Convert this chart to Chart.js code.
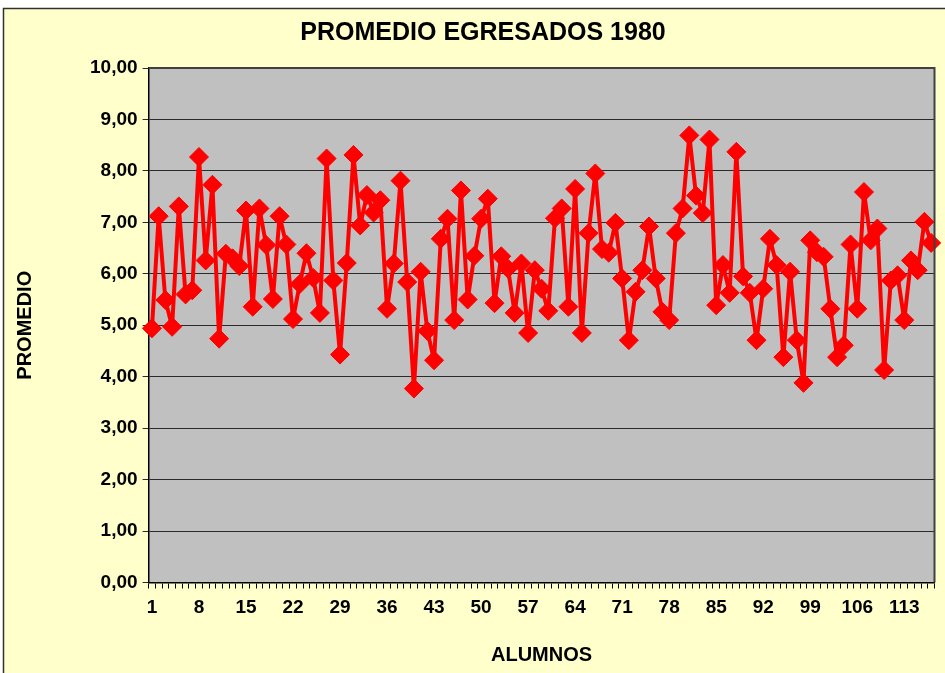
<!DOCTYPE html>
<html>
<head>
<meta charset="utf-8">
<script src="https://cdn.jsdelivr.net/npm/chart.js@4.4.1/dist/chart.umd.min.js"></script>
<style>
  body { margin: 0; background: #fff; }
  canvas { display: block; }
</style>
</head>
<body>
<canvas id="grafico" width="945" height="673"></canvas>
<script>
// categorias: alumnos 1..117
const alumnos = Array.from({ length: 117 }, (_, i) => String(i + 1));
const etiquetasX = ['1', '8', '15', '22', '29', '36', '43', '50', '57', '64', '71', '78', '85', '92', '99', '106', '113'];

// promedio de cada alumno
const promedios = [
  4.94, 7.12, 5.49, 4.97, 7.31, 5.60, 5.68, 8.27, 6.26, 7.73,
  4.74, 6.39, 6.30, 6.15, 7.23, 5.36, 7.27, 6.56, 5.51, 7.12,
  6.57, 5.12, 5.80, 6.40, 5.92, 5.24, 8.24, 5.87, 4.43, 6.21,
  8.31, 6.94, 7.53, 7.19, 7.43, 5.32, 6.20, 7.81, 5.84, 3.77,
  6.04, 4.89, 4.32, 6.68, 7.07, 5.10, 7.62, 5.50, 6.35, 7.07,
  7.46, 5.43, 6.34, 6.10, 5.24, 6.20, 4.85, 6.07, 5.71, 5.28,
  7.08, 7.27, 5.36, 7.65, 4.85, 6.79, 7.95, 6.48, 6.41, 6.99,
  5.91, 4.71, 5.65, 6.07, 6.92, 5.91, 5.26, 5.10, 6.79, 7.27,
  8.69, 7.52, 7.18, 8.61, 5.39, 6.17, 5.63, 8.37, 5.95, 5.63,
  4.71, 5.71, 6.68, 6.17, 4.38, 6.04, 4.71, 3.88, 6.65, 6.42,
  6.33, 5.32, 4.38, 4.61, 6.57, 5.32, 7.59, 6.65, 6.88, 4.13,
  5.87, 5.97, 5.10, 6.26, 6.07, 7.01, 6.60
];

const titulo = 'PROMEDIO EGRESADOS 1980';
const fuente = '"Liberation Sans", Arial, sans-serif';

// fondo amarillo, marco y area gris
const fondo = {
  id: 'fondo',
  beforeDraw(chart) {
    const ctx = chart.ctx;
    const a = chart.chartArea;
    ctx.save();
    ctx.fillStyle = '#ffffff';
    ctx.fillRect(0, 0, chart.width, chart.height);
    ctx.fillStyle = '#FFFFCC';
    ctx.fillRect(3, 8, chart.width, chart.height);
    ctx.strokeStyle = '#303030';
    ctx.lineWidth = 1.5;
    ctx.strokeRect(3.5, 8.5, chart.width + 10, chart.height + 10);
    ctx.fillStyle = '#C0C0C0';
    ctx.fillRect(a.left, a.top, a.right - a.left, a.bottom - a.top);
    ctx.fillStyle = '#000';
    ctx.font = 'bold 25px ' + fuente;
    ctx.textAlign = 'center';
    ctx.textBaseline = 'middle';
    ctx.fillText(titulo, 483, 33);
    ctx.restore();
  },
  afterDatasetsDraw(chart) {
    const ctx = chart.ctx;
    const a = chart.chartArea;
    ctx.save();
    ctx.strokeStyle = '#404040';
    ctx.lineWidth = 2;
    ctx.beginPath();
    ctx.moveTo(a.left, a.top);
    ctx.lineTo(a.right, a.top);
    ctx.lineTo(a.right, a.bottom);
    ctx.stroke();
    ctx.restore();
  }
};

const config = {
  type: 'line',
  data: {
    labels: alumnos,
    datasets: [{
      data: promedios,
      borderColor: '#FF0000',
      backgroundColor: '#FF0000',
      borderWidth: 4,
      borderJoinStyle: 'round',
      pointStyle: 'rectRot',
      pointRadius: 9.5,
      pointBorderWidth: 1,
      pointBackgroundColor: '#FF0000',
      pointBorderColor: '#FF0000',
      tension: 0
    }]
  },
  options: {
    responsive: false,
    animation: false,
    layout: { padding: { left: 0, right: 6, top: 68, bottom: 0 } },
    plugins: {
      legend: { display: false },
      tooltip: { enabled: false }
    },
    scales: {
      x: {
        offset: true,
        afterFit: (scale) => {
          scale.height = 90.5;
          scale.paddingLeft = 0;
          scale.paddingRight = 0;
        },
        grid: {
          offset: true,
          drawOnChartArea: false,
          drawTicks: true,
          tickLength: 6,
          color: '#000'
        },
        border: { color: '#000', width: 1.5 },
        ticks: {
          autoSkip: false,
          maxRotation: 0,
          minRotation: 0,
          padding: 8,
          color: '#000',
          font: { family: fuente, size: 19, weight: 'bold' },
          callback: function (value, index) {
            const lab = this.getLabelForValue(value);
            return etiquetasX.includes(lab) ? lab : '';
          }
        },
        title: {
          display: true,
          text: 'ALUMNOS',
          color: '#000',
          font: { family: fuente, size: 20, weight: 'bold' },
          padding: { top: 0, bottom: 6 }
        }
      },
      y: {
        min: 0,
        max: 10,
        afterFit: (scale) => { scale.width = 148.6; },
        grid: {
          color: '#2a2a2a',
          lineWidth: 1,
          tickLength: 6
        },
        border: { color: '#000', width: 1.5 },
        ticks: {
          stepSize: 1,
          padding: 5,
          color: '#000',
          font: { family: fuente, size: 19, weight: 'bold' },
          callback: (v) => v.toFixed(2).replace('.', ',')
        },
        title: {
          display: true,
          text: 'PROMEDIO',
          color: '#000',
          font: { family: fuente, size: 20, weight: 'bold' },
          padding: { top: 13, bottom: 0 }
        }
      }
    }
  },
  plugins: [fondo]
};

var grafico = new Chart(document.getElementById('grafico'), config);
</script>
</body>
</html>
